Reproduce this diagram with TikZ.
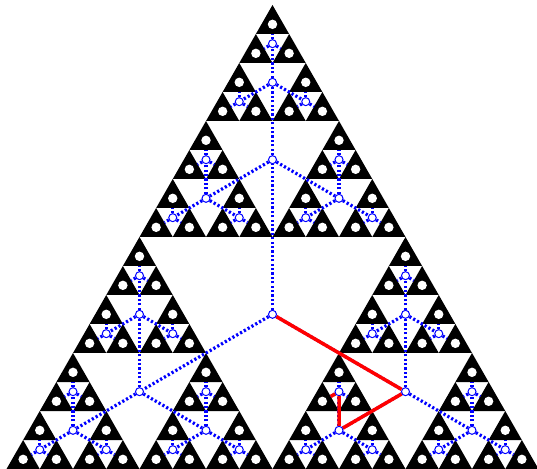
\documentclass[tikz,border=0pt]{standalone}
\usepackage{tikz}
\usetikzlibrary{calc}

\begin{document}
\begin{tikzpicture}[x=1pt,y=1pt,
  hole/.style={circle,draw=blue,fill=white,line width=1pt,inner sep=0pt,minimum size=8pt},
  link/.style={blue,line width=3.2pt,dash pattern=on 2.2pt off 2.2pt},
  route/.style={red,line width=3.5pt}]
\useasboundingbox (0,0) rectangle (537,468);
\foreach \ax/\ay in {0/0,1/0,0.5/1}
 \foreach \bx/\by in {0/0,1/0,0.5/1}
  \foreach \cx/\cy in {0/0,1/0,0.5/1}
   \foreach \dx/\dy in {0/0,1/0,0.5/1} {
    \coordinate (corner) at ({6.5+266*\ax+133*\bx+66.5*\cx+33.25*\dx},{-1+232*\ay+116*\by+58*\cy+29*\dy});
    \fill (corner) -- ++(33.25,0) -- ++(-16.625,29) -- cycle;
    \fill[white] ($(corner)+(16.625,9.67)$) circle (4.7pt);
   }
\node[hole] (o) at (272.5,153.67) {};
\foreach \a/\ax/\ay in {t/0/2,l/-1/-1,r/1/-1} {
  \node[hole] (o\a) at ($(o)+(133*\ax,77.33*\ay)$) {};
  \draw[link] (o) -- (o\a);
  \foreach \b/\bx/\by in {t/0/2,l/-1/-1,r/1/-1} {
    \node[hole] (o\a\b) at ($(o\a)+(66.5*\bx,38.67*\by)$) {};
    \draw[link] (o\a) -- (o\a\b);
    \foreach \c/\cx/\cy in {t/0/2,l/-1/-1,r/1/-1} {
      \node[hole] (o\a\b\c) at ($(o\a\b)+(33.25*\cx,19.33*\cy)$) {};
      \draw[link] (o\a\b) -- (o\a\b\c);
      \foreach \d/\dx/\dy in {t/0/2,l/-1/-1,r/1/-1} {
        \coordinate (o\a\b\c\d) at ($(o\a\b\c)+(8.31*\dx,4.83*\dy)$);
        \draw[link] (o\a\b\c) -- (o\a\b\c\d);
      }
    }
  }
}
\draw[route] (o) -- (or) -- (orl) -- (orlt) -- (orltl);
\end{tikzpicture}
\end{document}
